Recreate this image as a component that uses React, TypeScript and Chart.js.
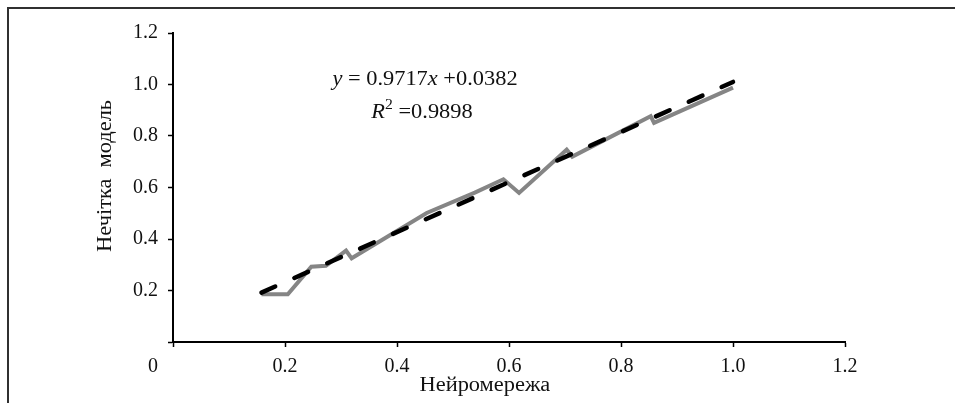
import React, { useEffect, useRef } from 'react';
import { Chart, registerables } from 'chart.js';

Chart.register(...registerables);

// Neural-network output (x) vs fuzzy model output (y)
const networkValues = [0.158, 0.205, 0.247, 0.273, 0.309, 0.319, 0.453, 0.539, 0.590, 0.618, 0.703, 0.713, 0.853, 0.859, 1.0];
const fuzzyValues = [0.185, 0.185, 0.292, 0.296, 0.355, 0.325, 0.501, 0.580, 0.632, 0.579, 0.747, 0.720, 0.877, 0.851, 0.988];

// Linear trend shown on the chart
const trendSlope = 0.9717;
const trendIntercept = 0.0382;
const rSquared = 0.9898;

const xTickValues = [0, 0.2, 0.4, 0.6, 0.8, 1.0, 1.2];
const yTickValues = [0.2, 0.4, 0.6, 0.8, 1.0, 1.2];
const xTitle = 'Нейромережа';
const yTitle = 'Нечітка  модель';

const SERIF = '"Liberation Serif", "Times New Roman", serif';
const STRETCH = 1.12;

type Run = { text: string; italic?: boolean; size?: number; dy?: number };

function drawRuns(ctx: CanvasRenderingContext2D, runs: Run[], cx: number, baseline: number, baseSize: number) {
  const fontOf = (r: Run) => `${r.italic ? 'italic ' : ''}${r.size ?? baseSize}px ${SERIF}`;
  const widths = runs.map((r) => {
    ctx.font = fontOf(r);
    return ctx.measureText(r.text).width;
  });
  const total = widths.reduce((a, b) => a + b, 0);
  ctx.save();
  ctx.translate(cx, baseline);
  ctx.scale(STRETCH, 1);
  ctx.textAlign = 'left';
  ctx.textBaseline = 'alphabetic';
  ctx.fillStyle = '#111';
  let x = -total / 2;
  runs.forEach((r, i) => {
    ctx.font = fontOf(r);
    ctx.fillText(r.text, x, r.dy ?? 0);
    x += widths[i];
  });
  ctx.restore();
}

const framePlugin = {
  id: 'frame',
  beforeDraw(chart: any) {
    const ctx: CanvasRenderingContext2D = chart.ctx;
    ctx.save();
    ctx.fillStyle = '#fff';
    ctx.fillRect(0, 0, chart.width, chart.height);
    ctx.strokeStyle = '#303030';
    ctx.lineWidth = 2;
    ctx.beginPath();
    ctx.moveTo(8, chart.height);
    ctx.lineTo(8, 8);
    ctx.lineTo(chart.width, 8);
    ctx.stroke();
    ctx.restore();
  },
};

const textPlugin = {
  id: 'chartTexts',
  afterDraw(chart: any) {
    const ctx: CanvasRenderingContext2D = chart.ctx;
    const xs = chart.scales.x;
    const ys = chart.scales.y;
    const area = chart.chartArea;

    // regression equation
    const eqX = xs.getPixelForValue(0.45);
    drawRuns(
      ctx,
      [
        { text: 'y', italic: true },
        { text: ' = ' + trendSlope.toFixed(4) },
        { text: 'x', italic: true },
        { text: ' +' + trendIntercept.toFixed(4) },
      ],
      eqX,
      ys.getPixelForValue(1.0),
      20
    );
    drawRuns(
      ctx,
      [
        { text: 'R', italic: true },
        { text: '2', size: 14, dy: -9 },
        { text: ' =' + rSquared.toFixed(4) },
      ],
      eqX - 3,
      ys.getPixelForValue(0.868),
      20
    );

    // x axis title
    ctx.save();
    ctx.font = `20px ${SERIF}`;
    ctx.fillStyle = '#111';
    ctx.textAlign = 'center';
    ctx.textBaseline = 'alphabetic';
    ctx.translate(xs.getPixelForValue(0.557), area.bottom + 49);
    ctx.scale(STRETCH, 1);
    ctx.fillText(xTitle, 0, 0);
    ctx.restore();

    // y axis title
    ctx.save();
    ctx.font = `20px ${SERIF}`;
    ctx.fillStyle = '#111';
    ctx.textAlign = 'center';
    ctx.textBaseline = 'middle';
    ctx.translate(106, ys.getPixelForValue(0.645));
    ctx.rotate(-Math.PI / 2);
    ctx.scale(STRETCH, 1);
    ctx.fillText(yTitle, 0, 0);
    ctx.restore();
  },
};

export default function App() {
  const ref = useRef<HTMLCanvasElement>(null);

  useEffect(() => {
    const canvas = ref.current!;
    const points = networkValues.map((x, i) => ({ x, y: fuzzyValues[i] }));
    const xMin = Math.min(...networkValues);
    const xMax = Math.max(...networkValues);
    const trend = [xMin, xMax].map((x) => ({ x, y: trendSlope * x + trendIntercept }));

    const tickFont = { family: SERIF, size: 20 };

    const chart = new Chart(canvas, {
      type: 'scatter',
      data: {
        datasets: [
          {
            label: 'trend',
            data: trend,
            showLine: true,
            borderColor: '#000',
            borderWidth: 4.5,
            borderDash: [15, 21],
            borderCapStyle: 'round',
            pointRadius: 0,
            order: 1,
          },
          {
            label: 'data',
            data: points,
            showLine: true,
            borderColor: '#858585',
            borderWidth: 4,
            borderJoinStyle: 'miter',
            pointRadius: 0,
            tension: 0,
            order: 2,
          },
        ],
      },
      options: {
        responsive: false,
        maintainAspectRatio: false,
        animation: false,
        devicePixelRatio: 1,
        layout: { padding: { left: 0, top: 33, right: 110, bottom: 0 } },
        plugins: {
          legend: { display: false },
          tooltip: { enabled: false },
        },
        scales: {
          x: {
            type: 'linear',
            min: 0,
            max: 1.2,
            afterBuildTicks: (scale: any) => {
              scale.ticks = xTickValues.map((v) => ({ value: v }));
            },
            afterFit: (scale: any) => {
              scale.height = 61;
            },
            ticks: {
              font: tickFont,
              color: '#111',
              padding: 8,
              maxRotation: 0,
              autoSkip: false,
              callback: (v: any) => (Number(v) === 0 ? '0' + '\u00A0'.repeat(8) : Number(v).toFixed(1)),
            },
            grid: {
              drawOnChartArea: false,
              drawTicks: true,
              tickLength: 5,
              tickColor: '#000',
              tickWidth: 1.5,
            },
            border: { display: true, color: '#000', width: 2 },
          },
          y: {
            type: 'linear',
            min: 0,
            max: 1.2,
            afterBuildTicks: (scale: any) => {
              scale.ticks = [0, ...yTickValues].map((v) => ({ value: v }));
            },
            afterFit: (scale: any) => {
              scale.width = 173;
            },
            ticks: {
              font: tickFont,
              color: '#111',
              padding: 10,
              autoSkip: false,
              callback: (v: any) => (Number(v) === 0 ? '' : Number(v).toFixed(1)),
            },
            grid: {
              drawOnChartArea: false,
              drawTicks: true,
              tickLength: 5,
              tickColor: '#000',
              tickWidth: 1.5,
            },
            border: { display: true, color: '#000', width: 2 },
          },
        },
      },
      plugins: [framePlugin, textPlugin],
    } as any);

    return () => chart.destroy();
  }, []);

  return (
    <div style={{ position: 'absolute', left: 0, top: 0, width: 955, height: 403, overflow: 'hidden' }}>
      <canvas
        ref={ref}
        width={955}
        height={403}
        style={{ display: 'block', width: 955, height: 403 }}
      />
    </div>
  );
}
